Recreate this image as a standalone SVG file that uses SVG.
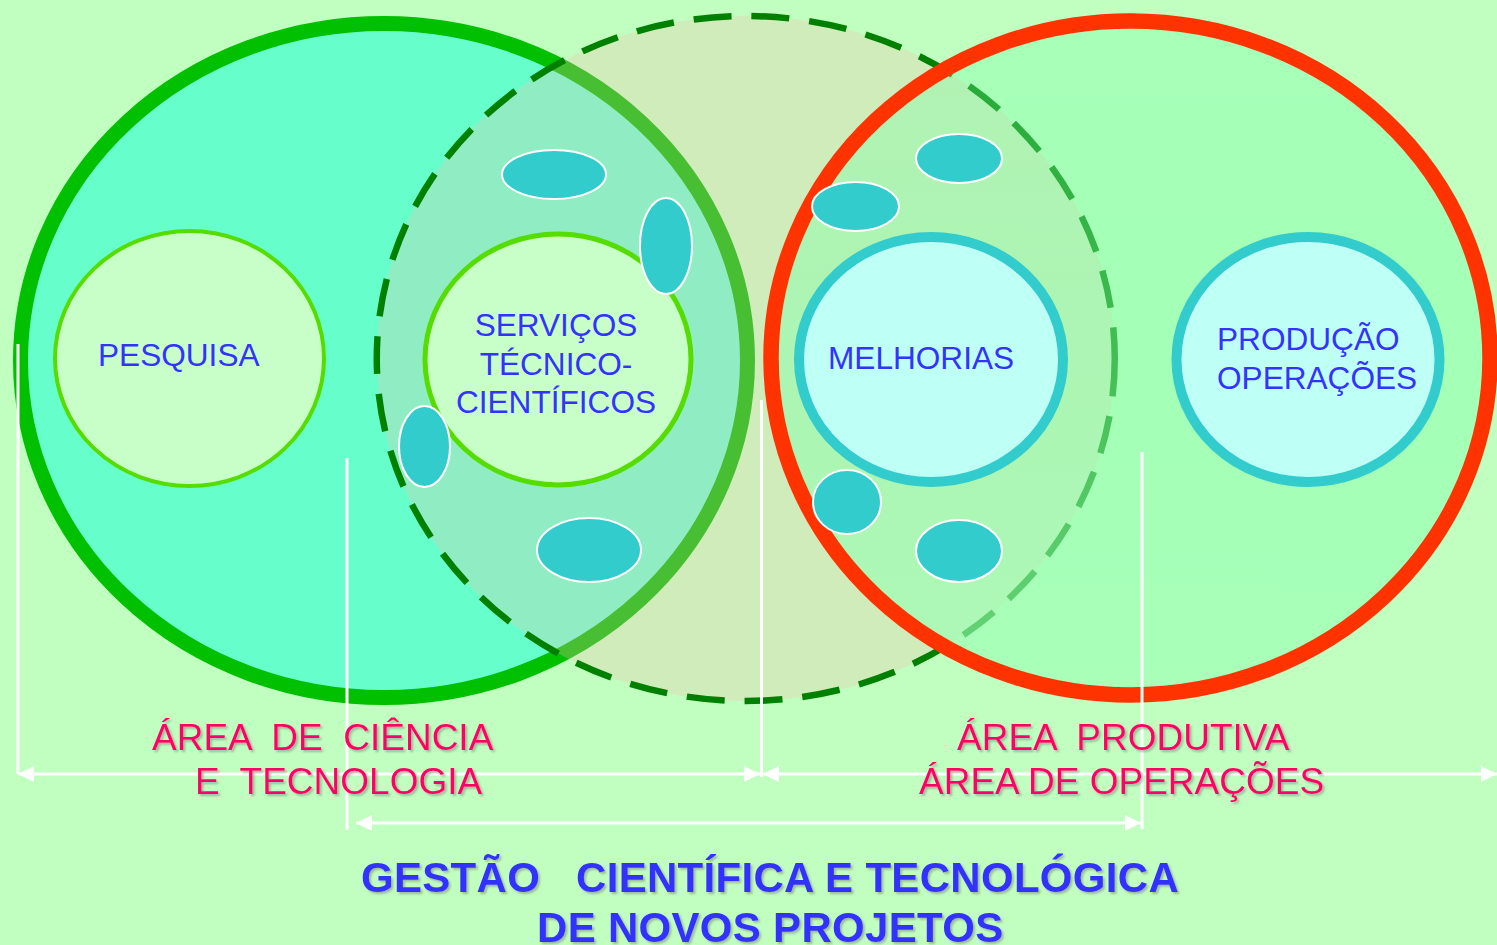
<svg xmlns="http://www.w3.org/2000/svg" width="1497" height="945" viewBox="0 0 1497 945">
<style>
.lbl{font-family:"Liberation Sans",Arial,sans-serif;font-size:31.6px;fill:#3333FF}
.area{font-family:"Liberation Sans",Arial,sans-serif;font-size:37px;fill:#FF0066;filter:url(#sh)}
.title{font-family:"Liberation Sans",Arial,sans-serif;font-size:42px;font-weight:bold;fill:#3333FF;letter-spacing:0.3px;filter:url(#sh)}
.blob{fill:#33CCCC;stroke:#FFFFFF;stroke-width:2}
.inner-g{fill:#C8FFC8;stroke:#55DD00}
.inner-c{fill:#BEFFF6;stroke:#33CCCC;stroke-width:10}
.wl{stroke:#FFFFFF;stroke-width:3;fill:none}
</style>
<defs>
<filter id="sh" x="-5%" y="-20%" width="110%" height="150%">
<feDropShadow dx="2" dy="2" stdDeviation="0.8" flood-color="#808080" flood-opacity="0.55"/>
</filter>
<linearGradient id="rg" x1="0" y1="0" x2="0" y2="1">
<stop offset="0" stop-color="#70FFA5" stop-opacity="0.3"/>
<stop offset="1" stop-color="#9EFFB5" stop-opacity="0.68"/>
</linearGradient>
<marker id="ah" viewBox="0 0 16 16" refX="16" refY="8" markerWidth="16" markerHeight="16" markerUnits="userSpaceOnUse" orient="auto-start-reverse">
<path d="M0,0 L16,8 L0,16 Z" fill="#FFFFFF"/>
</marker>
</defs>
<rect x="0" y="0" width="1497" height="945" fill="#C0FFC0"/>
<g id="area-ciencia">
<ellipse cx="384" cy="360.5" rx="363.5" ry="337" fill="#66FFCC" stroke="#00C000" stroke-width="15"/>
</g>
<g id="gestao">
<ellipse cx="745.75" cy="358.5" rx="369" ry="342.5" fill="rgb(247,189,171)" fill-opacity="0.29" stroke="#008000" stroke-width="6.5" stroke-dasharray="38 20"/>
</g>
<g id="area-produtiva">
<ellipse cx="1130.5" cy="358" rx="359.5" ry="337" fill="url(#rg)" stroke="#FF3300" stroke-width="15.5"/>
</g>
<g id="pesquisa">
<ellipse cx="189.5" cy="358.5" rx="134.5" ry="127.5" class="inner-g" stroke-width="4"/>
<text class="lbl" x="98" y="366">PESQUISA</text>
</g>
<g id="servicos">
<ellipse cx="558" cy="359.5" rx="133" ry="125.5" class="inner-g" stroke-width="5"/>
<text class="lbl" x="556" y="336" text-anchor="middle">SERVIÇOS</text>
<text class="lbl" x="556" y="375" text-anchor="middle">TÉCNICO-</text>
<text class="lbl" x="556" y="413" text-anchor="middle">CIENTÍFICOS</text>
</g>
<g id="melhorias">
<ellipse cx="931" cy="359.5" rx="132" ry="122.5" class="inner-c"/>
<text class="lbl" x="828" y="369">MELHORIAS</text>
</g>
<g id="producao">
<ellipse cx="1308" cy="359.5" rx="131.5" ry="122.5" class="inner-c"/>
<text class="lbl" x="1217" y="350">PRODUÇÃO</text>
<text class="lbl" x="1217" y="389">OPERAÇÕES</text>
</g>
<g id="blobs">
<ellipse class="blob" cx="554" cy="174.5" rx="52" ry="24.5"/>
<ellipse class="blob" cx="666" cy="246" rx="26" ry="48"/>
<ellipse class="blob" cx="424.5" cy="446.5" rx="25.5" ry="40.5"/>
<ellipse class="blob" cx="589" cy="550" rx="52" ry="32"/>
<ellipse class="blob" cx="959" cy="158.5" rx="43" ry="24.5"/>
<ellipse class="blob" cx="855.5" cy="206.5" rx="43.5" ry="24.5"/>
<ellipse class="blob" cx="847" cy="502" rx="34" ry="32"/>
<ellipse class="blob" cx="959" cy="551" rx="43" ry="31"/>
</g>
<g id="connectors">
<line class="wl" x1="18" y1="344" x2="18" y2="774"/>
<line class="wl" x1="347" y1="458" x2="347" y2="830"/>
<line class="wl" x1="761.5" y1="400" x2="761.5" y2="777"/>
<line class="wl" x1="1142" y1="452" x2="1142" y2="829"/>
<line class="wl" x1="18" y1="774" x2="760" y2="774" marker-start="url(#ah)" marker-end="url(#ah)"/>
<line class="wl" x1="763" y1="774" x2="1497" y2="774" marker-start="url(#ah)" marker-end="url(#ah)"/>
<line class="wl" x1="356" y1="823" x2="1141" y2="823" marker-start="url(#ah)" marker-end="url(#ah)"/>
</g>
<g id="labels">
<text class="area" x="152" y="750" xml:space="preserve">ÁREA  DE  CIÊNCIA</text>
<text class="area" x="195" y="794" xml:space="preserve">E  TECNOLOGIA</text>
<text class="area" x="957" y="750" xml:space="preserve">ÁREA  PRODUTIVA</text>
<text class="area" x="919" y="794">ÁREA DE OPERAÇÕES</text>
<text class="title" x="361" y="892" xml:space="preserve">GESTÃO   CIENTÍFICA E TECNOLÓGICA</text>
<text class="title" x="537" y="942">DE NOVOS PROJETOS</text>
</g>
</svg>
